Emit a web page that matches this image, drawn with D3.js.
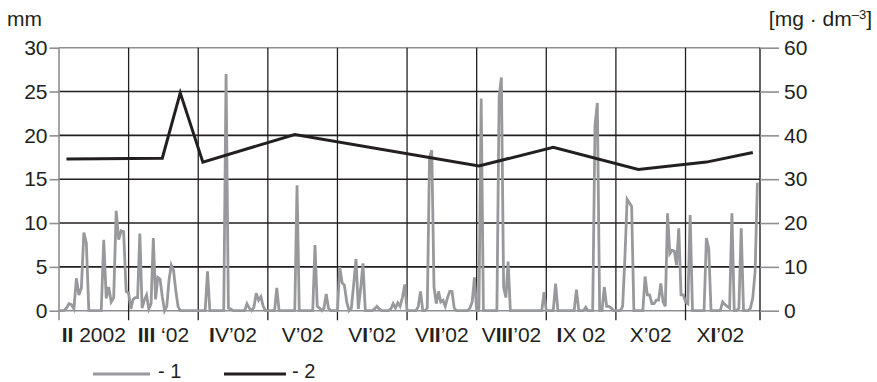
<!DOCTYPE html>
<html><head><meta charset="utf-8">
<script src="https://cdn.jsdelivr.net/npm/d3@7"></script>
<style>
html,body{margin:0;padding:0;background:#fff;}
svg{display:block;font-family:"Liberation Sans",Arial,Helvetica,sans-serif;}
</style></head><body>
<svg id="chart" width="877" height="382"></svg>
<script>
// ---------- data ----------
const monthLabels = ["II 2002", "III \u201802", "IV\u201902", "V\u201902", "VI\u201902", "VII\u201902", "VIII\u201902", "IX 02", "X\u201902", "XI\u201902"];
const monthDays = [28, 31, 30, 31, 30, 31, 31, 30, 31, 30, 31];
const leftTicks = [0, 5, 10, 15, 20, 25, 30];
const rightTicks = [0, 10, 20, 30, 40, 50, 60];
const leftUnit = "mm";
const legendLabels = ["- 1", "- 2"];

// series 1: daily precipitation [mm], one array per month (Feb 2002 ...)
const precipII   = [0,0,0,0.3,0.8,0.7,0.2,3.7,1.8,2.6,8.9,7.7,0,0,0,0,0,0,8.1,1.4,2.7,1.0,1.5,11.4,8.1,9.1,9.0,2.2];
const precipIII  = [2.0,0.2,1.3,1.5,1.5,8.8,0.3,1.2,1.8,0.2,0.8,8.3,1.3,3.8,3.6,1.6,0,0.5,3.5,5.2,4.6,2.3,0.5,0,0,0,0,0,0,0,0];
const precipIV   = [0,0,0,0,4.5,0,0,0,0,0,0,0,27.0,0.3,0.2,0,0,0,0,0,0,0.8,0.3,0,0.4,2.0,1.2,1.6,0.5,0];
const precipV    = [0,0,0,0,2.6,0,0,0,0,0,0,0,0,14.3,0,0,0,0,0,0,0,7.5,0.5,0.3,0,0.3,1.9,0.3,0,0,0];
const precipVI   = [0,5.0,3.2,2.9,1.0,0,0.3,3.0,5.9,0.2,2.5,5.4,0,0,0,0,0.2,0.5,0.2,0,0,0,0,0.2,0.8,0.3,0.9,0.5,1.5,3.0];
const precipVII  = [0,0,0,0,0,0.5,2.2,0,0,0.3,17.5,18.3,2.7,0.8,2.2,1.0,1.2,0.5,1.5,2.2,2.2,0.3,0,0,0,0,0,0,0.3,1.0,3.8];
const precipVIII = [0,0,24.2,0,0,0,0,0,0,0,24.4,26.6,2.7,1.5,5.6,0,0,0,0,0,0,0,0,0,0,0,0,0,0,0,2.1];
const precipIX   = [0,0,0,0,3.1,0,0,0,0,0,0,0,0,2.4,0,0,0,0.4,0,0,0,21.2,23.7,0,0,2.7,0.5,0.5,0.3,0];
const precipX    = [0,0,0,0.5,6.0,12.7,12.3,11.9,0,0,0,0,0,3.9,1.8,1.8,0.8,0.8,1.2,1.2,3.1,1.0,0.5,11.1,6.5,6.9,6.8,5.2,9.4,1.8,1.8];
const precipXI   = [1.0,0.8,10.9,0,0,0,0,0,0,8.3,7.1,0,0,0,0,0,1.0,0.7,0.5,0.3,11.1,0,0,0.3,9.4,0,0,0,0.3,1.5];
const precipXII  = [4.5,14.6];

// series 2: concentration [mg·dm-3]
const concDates  = ["2002-02-04","2002-03-16","2002-03-24","2002-04-03","2002-05-13","2002-08-02","2002-09-04","2002-10-11","2002-11-10","2002-11-30"];
const concValues = [34.6, 34.8, 49.7, 33.9, 40.2, 33.0, 37.3, 32.2, 33.9, 36.1];

// ---------- helpers ----------
const precipByMonth = [precipII, precipIII, precipIV, precipV, precipVI, precipVII, precipVIII, precipIX, precipX, precipXI, precipXII];
const monthPos = (m, day) => m + (day - 1) / monthDays[m];
const precipPoints = precipByMonth.flatMap((arr, m) => arr.map((v, i) => ({p: monthPos(m, i + 1), v})));
const concPoints = concDates.map((s, i) => {
  const [yy, mo, d] = s.split("-").map(Number);
  return {p: monthPos(mo - 2, d), v: concValues[i]};
});

// ---------- layout ----------
const svg = d3.select("#chart");
const L = 59, R = 760, T = 47.7, B = 310.7;
const dark = "#231f20", gray = "#8e8f92", lineGray = "#98999c";
const FS = 21;

const x = d3.scaleLinear().domain([0, 10.07]).range([L, R]);
const yL = d3.scaleLinear().domain([0, 30]).range([B, T]);
const yR = d3.scaleLinear().domain([0, 60]).range([B, T]);

// horizontal gridlines
svg.append("g").selectAll("line").data(leftTicks).join("line")
  .attr("x1", L).attr("x2", R)
  .attr("y1", d => yL(d)).attr("y2", d => yL(d))
  .attr("stroke", d => (d === 0 || d === 30) ? gray : dark)
  .attr("stroke-width", 1.6);

// vertical gridlines (month boundaries) extending below as ticks
const monthIdx = d3.range(0, 10);
svg.append("g").selectAll("line").data(monthIdx).join("line")
  .attr("x1", d => x(d)).attr("x2", d => x(d))
  .attr("y1", T).attr("y2", B + 9.5)
  .attr("stroke", d => d === 0 ? gray : dark)
  .attr("stroke-width", d => d === 0 ? 1.6 : 1.3);
// right axis line
svg.append("line").attr("x1", R).attr("x2", R).attr("y1", T).attr("y2", B + 9.5)
  .attr("stroke", dark).attr("stroke-width", 1.4);

// left axis
const gL = svg.append("g").attr("transform", `translate(${L},0)`)
  .call(d3.axisLeft(yL).tickValues(leftTicks).tickSize(9.5).tickPadding(2).tickSizeOuter(0));
gL.select(".domain").remove();
gL.selectAll(".tick line").attr("stroke", gray).attr("stroke-width", 1.6);
gL.selectAll(".tick text").attr("font-size", FS).attr("fill", dark)
  .attr("font-family", "Liberation Sans, Arial, sans-serif");

// right axis
const gR = svg.append("g").attr("transform", `translate(${R},0)`)
  .call(d3.axisRight(yR).tickValues(rightTicks).tickSize(19).tickPadding(5).tickSizeOuter(0));
gR.select(".domain").remove();
gR.selectAll(".tick line").attr("stroke", gray).attr("stroke-width", 1.6);
gR.selectAll(".tick text").attr("font-size", FS).attr("fill", dark)
  .attr("font-family", "Liberation Sans, Arial, sans-serif");

// month labels centered in columns; roman "I" rendered heavier
const lab = svg.append("g").selectAll("text").data(monthLabels).join("text")
  .attr("x", (d, i) => x(i + 0.5)).attr("y", 342)
  .attr("text-anchor", "middle").attr("font-size", FS).attr("fill", dark);
lab.each(function(d) {
  const parts = d.match(/I+|[^I]+/g);
  d3.select(this).selectAll("tspan").data(parts).join("tspan")
    .attr("font-weight", p => p[0] === "I" ? "bold" : null)
    .text(p => p);
});

// axis unit titles
svg.append("text").attr("x", 7).attr("y", 26).attr("font-size", FS).attr("fill", dark).text(leftUnit);
const ru = svg.append("text").attr("x", 872).attr("y", 26).attr("text-anchor", "end")
  .attr("font-size", FS).attr("fill", dark);
ru.append("tspan").text("[mg \u00b7 dm");
ru.append("tspan").attr("dy", -7).attr("font-size", 13).text("\u20133");
ru.append("tspan").attr("dy", 7).text("]");

// series 1 line
const line1 = d3.line().x(d => x(d.p)).y(d => yL(d.v));
svg.append("path").datum(precipPoints).attr("d", line1)
  .attr("fill", "none").attr("stroke", lineGray).attr("stroke-width", 2.8);

// series 2 line
const line2 = d3.line().x(d => x(d.p)).y(d => yR(d.v));
svg.append("path").datum(concPoints).attr("d", line2)
  .attr("fill", "none").attr("stroke", dark).attr("stroke-width", 3);

// legend
const leg = svg.append("g");
leg.append("line").attr("x1", 93).attr("x2", 150).attr("y1", 374).attr("y2", 374)
  .attr("stroke", lineGray).attr("stroke-width", 3);
leg.append("text").attr("x", 158).attr("y", 377.5).attr("font-size", 20).attr("fill", dark).text(legendLabels[0]);
leg.append("line").attr("x1", 224).attr("x2", 286).attr("y1", 374).attr("y2", 374)
  .attr("stroke", dark).attr("stroke-width", 3);
leg.append("text").attr("x", 292).attr("y", 377.5).attr("font-size", 20).attr("fill", dark).text(legendLabels[1]);
</script>
</body></html>
